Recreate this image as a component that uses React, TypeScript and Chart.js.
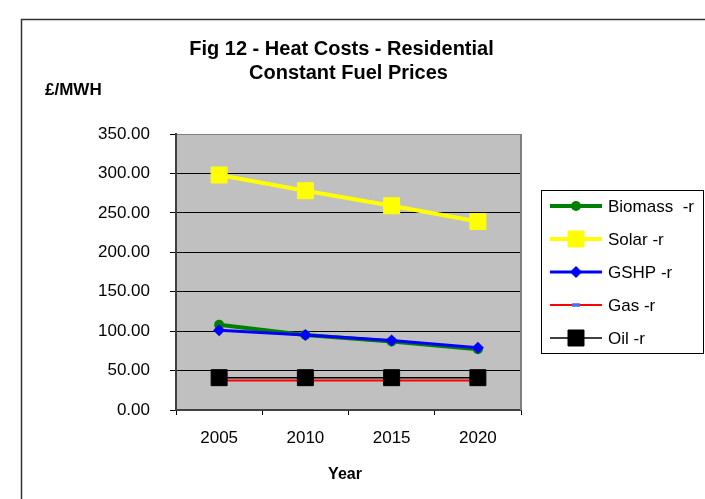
import React, { useEffect, useRef } from "react";
import { Chart, registerables } from "chart.js";

Chart.register(...registerables);

const years = ["2005", "2010", "2015", "2020"];
const biomass = [108, 95, 87, 77];
const solar = [298, 278, 259, 239];
const gshp = [101, 95, 88, 79];
const gas = [37.5, 37.5, 37.5, 37.5];
const oil = [41, 41, 41, 41];

const titleLine1 = "Fig 12 - Heat Costs - Residential";
const titleLine2 = "Constant Fuel Prices";
const yTitle = "£/MWH";
const xTitle = "Year";

const FONT = '"Liberation Sans", Arial, Helvetica, sans-serif';

function drawMarker(ctx: CanvasRenderingContext2D, style: string, x: number, y: number, r: number, fill: string, stroke: string, bw: number) {
  ctx.save();
  ctx.fillStyle = fill;
  ctx.strokeStyle = stroke;
  ctx.lineWidth = bw;
  ctx.beginPath();
  if (style === "circle") {
    ctx.arc(x, y, r, 0, Math.PI * 2);
    ctx.fill();
    if (bw) ctx.stroke();
  } else if (style === "rect") {
    const s = Math.SQRT1_2 * r;
    ctx.rect(x - s, y - s, 2 * s, 2 * s);
    ctx.fill();
    if (bw) ctx.stroke();
  } else if (style === "rectRot") {
    ctx.moveTo(x, y - r);
    ctx.lineTo(x + r, y);
    ctx.lineTo(x, y + r);
    ctx.lineTo(x - r, y);
    ctx.closePath();
    ctx.fill();
    if (bw) ctx.stroke();
  } else if (style === "line") {
    ctx.moveTo(x - r, y);
    ctx.lineTo(x + r, y);
    ctx.stroke();
  }
  ctx.restore();
}

const framePlugin = {
  id: "framePlugin",
  beforeDraw(chart: any) {
    const { ctx, chartArea } = chart;
    ctx.save();
    ctx.fillStyle = "#ffffff";
    ctx.fillRect(0, 0, chart.width, chart.height);
    ctx.fillStyle = "#c0c0c0";
    ctx.fillRect(chartArea.left, chartArea.top, chartArea.right - chartArea.left, chartArea.bottom - chartArea.top);
    // outer frame
    ctx.strokeStyle = "#333333";
    ctx.lineWidth = 1.5;
    ctx.beginPath();
    ctx.moveTo(21.5, chart.height + 2);
    ctx.lineTo(21.5, 19.5);
    ctx.lineTo(chart.width + 2, 19.5);
    ctx.stroke();
    ctx.restore();
  },
  beforeDatasetsDraw(chart: any) {
    const { ctx, chartArea } = chart;
    ctx.save();
    ctx.strokeStyle = "#808080";
    ctx.lineWidth = 2;
    ctx.beginPath();
    ctx.moveTo(chartArea.right, chartArea.top);
    ctx.lineTo(chartArea.right, chartArea.bottom);
    ctx.stroke();
    ctx.restore();
  },
  afterDraw(chart: any) {
    const { ctx, chartArea } = chart;
    ctx.save();
    ctx.fillStyle = "#000";
    ctx.textBaseline = "alphabetic";
    ctx.font = `bold 20px ${FONT}`;
    ctx.textAlign = "center";
    ctx.fillText(titleLine1, 341.5, 55);
    ctx.fillText(titleLine2, (chartArea.left + chartArea.right) / 2, 79);
    ctx.font = `bold 17px ${FONT}`;
    ctx.textAlign = "left";
    ctx.fillText(yTitle, 45, 95);
    ctx.font = `bold 16px ${FONT}`;
    ctx.textAlign = "center";
    ctx.fillText(xTitle, 345, 479);

    // legend
    const lx = 541.5, ly = 190.5, lw = 162, lh = 163;
    ctx.strokeStyle = "#000";
    ctx.lineWidth = 1;
    ctx.strokeRect(lx, ly, lw, lh);
    ctx.font = `17px ${FONT}`;
    ctx.textAlign = "left";
    ctx.textBaseline = "middle";
    chart.data.datasets.forEach((ds: any, i: number) => {
      const y = 206 + i * 33;
      ctx.save();
      ctx.strokeStyle = ds.borderColor;
      ctx.lineWidth = ds.borderWidth;
      ctx.beginPath();
      ctx.moveTo(550, y);
      ctx.lineTo(602, y);
      ctx.stroke();
      ctx.restore();
      drawMarker(ctx, ds.pointStyle, 576, y, ds.legendRadius, ds.pointBackgroundColor, ds.pointBorderColor, ds.pointBorderWidth);
      ctx.fillStyle = "#000";
      ctx.fillText(ds.label, 608, y + 1);
    });
    ctx.restore();
  },
};

export default function App() {
  const ref = useRef<HTMLCanvasElement | null>(null);
  useEffect(() => {
    if (!ref.current) return;
    const chart = new Chart(ref.current, {
      type: "line",
      data: {
        labels: years,
        datasets: [
          {
            label: "Biomass  -r",
            data: biomass,
            borderColor: "#008000",
            borderWidth: 4,
            pointStyle: "circle",
            pointRadius: 5,
            legendRadius: 5,
            pointBackgroundColor: "#008000",
            pointBorderColor: "#008000",
            pointBorderWidth: 0,
            order: 4,
          } as any,
          {
            label: "Solar -r",
            data: solar,
            borderColor: "#ffff00",
            borderWidth: 4,
            pointStyle: "rect",
            pointRadius: 11.3,
            legendRadius: 11.3,
            pointBackgroundColor: "#ffff00",
            pointBorderColor: "#ffff00",
            pointBorderWidth: 1,
            order: 5,
          } as any,
          {
            label: "GSHP -r",
            data: gshp,
            borderColor: "#0000ff",
            borderWidth: 3,
            pointStyle: "rectRot",
            pointRadius: 6,
            legendRadius: 6,
            pointBackgroundColor: "#0000ff",
            pointBorderColor: "#0000ff",
            pointBorderWidth: 0,
            order: 3,
          } as any,
          {
            label: "Gas -r",
            data: gas,
            borderColor: "#ff0000",
            borderWidth: 2,
            pointStyle: "line",
            pointRadius: 4,
            legendRadius: 4,
            pointBackgroundColor: "#3f6fff",
            pointBorderColor: "#3f6fff",
            pointBorderWidth: 3.5,
            order: 2,
          } as any,
          {
            label: "Oil -r",
            data: oil,
            borderColor: "#000000",
            borderWidth: 1.5,
            pointStyle: "rect",
            pointRadius: 11.3,
            legendRadius: 11.3,
            pointBackgroundColor: "#000000",
            pointBorderColor: "#000000",
            pointBorderWidth: 1,
            order: 1,
          } as any,
        ],
      },
      options: {
        animation: false,
        responsive: false,
        devicePixelRatio: 1,
        layout: { padding: { left: 0, top: 134, right: 184, bottom: 0 } },
        elements: { line: { tension: 0 } },
        plugins: {
          legend: { display: false },
          title: { display: false },
          tooltip: { enabled: false },
        },
        scales: {
          x: {
            type: "category",
            offset: true,
            grid: {
              offset: true,
              drawOnChartArea: false,
              drawTicks: true,
              tickLength: 5,
              color: "#000",
              lineWidth: 1,
            },
            border: { display: true, color: "#404040", width: 2 },
            ticks: {
              color: "#000",
              font: { family: FONT, size: 17 },
              padding: 13,
              maxRotation: 0,
              autoSkip: false,
            },
            afterFit: (s: any) => {
              s.height = 89;
            },
          },
          y: {
            min: 0,
            max: 350,
            ticks: {
              stepSize: 50,
              color: "#000",
              font: { family: FONT, size: 17 },
              padding: 20,
              callback: (v: any) => Number(v).toFixed(2),
            },
            grid: {
              color: (c: any) => (c.tick && c.tick.value === 350 ? "#808080" : "#000"),
              tickColor: "#000",
              tickLength: 6,
              lineWidth: 1,
            },
            border: { display: true, color: "#404040", width: 2 },
            afterFit: (s: any) => {
              s.width = 176;
            },
          },
        },
      } as any,
      plugins: [framePlugin],
    });
    return () => chart.destroy();
  }, []);
  return (
    <div style={{ position: "fixed", left: 0, top: 0, width: 705, height: 499, background: "#fff" }}>
      <canvas ref={ref} width={705} height={499} style={{ display: "block", width: 705, height: 499 }} />
    </div>
  );
}
